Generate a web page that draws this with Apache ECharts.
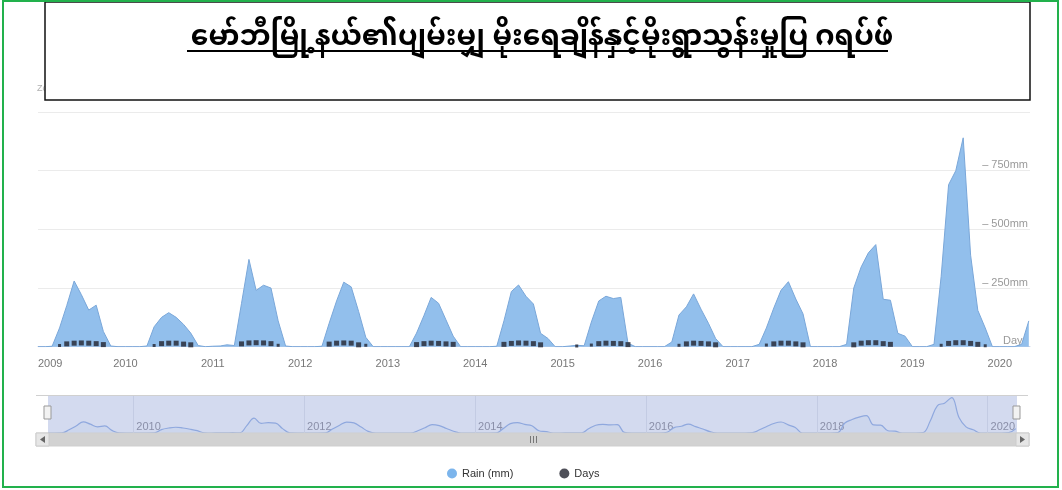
<!DOCTYPE html>
<html><head><meta charset="utf-8">
<script src="https://cdn.jsdelivr.net/npm/echarts@6/dist/echarts.min.js"></script>
<style>html,body{margin:0;padding:0;background:#fff}#c{width:1062px;height:490px}</style>
</head><body><div id="c"></div>
<script>
// ---- data (monthly, Jan..Dec) ----
const titleText = 'မော်ဘီမြို့နယ်၏ပျမ်းမျှ မိုးရေချိန်နှင့်မိုးရွာသွန်းမှုပြ ဂရပ်ဖ်';
const years = [2009, 2010, 2011, 2012, 2013, 2014, 2015, 2016, 2017, 2018, 2019, 2020];
const rain2009 = [0, 0, 2, 80, 175, 280, 222, 156, 177, 65, 3, 0];
const rain2010 = [0, 0, 0, 3, 85, 125, 145, 125, 95, 58, 5, 0];
const rain2011 = [2, 3, 8, 5, 185, 372, 240, 262, 250, 110, 3, 0];
const rain2012 = [0, 0, 0, 2, 100, 195, 275, 255, 150, 40, 0, 0];
const rain2013 = [0, 0, 0, 0, 58, 133, 210, 185, 114, 45, 0, 0];
const rain2014 = [0, 0, 0, 2, 110, 235, 263, 215, 182, 57, 35, 0];
const rain2015 = [0, 3, 6, 4, 105, 195, 215, 205, 210, 15, 0, 0];
const rain2016 = [0, 0, 0, 20, 135, 170, 225, 160, 100, 35, 0, 0];
const rain2017 = [0, 0, 0, 10, 80, 165, 240, 277, 203, 140, 0, 0];
const rain2018 = [0, 0, 0, 10, 250, 340, 400, 435, 202, 198, 57, 45];
const rain2019 = [0, 0, 0, 10, 300, 690, 750, 890, 390, 155, 80, 0];
const rain2020 = [0, 0, 0, 10, 110];
const days2009 = [null, null, null, 5, 12, 15, 16, 15, 13, 9, null, null];
const days2010 = [null, null, null, null, 5, 13, 15, 15, 11, 8, null, null];
const days2011 = [null, null, null, null, 12, 16, 17, 16, 13, 6, null, null];
const days2012 = [null, null, null, null, 11, 15, 16, 15, 8, 6, null, null];
const days2013 = [null, null, null, null, 9, 13, 15, 14, 12, 10, null, null];
const days2014 = [null, null, null, null, 10, 14, 16, 15, 13, 8, null, null];
const days2015 = [null, null, 3, null, 7, 13, 15, 14, 13, 9, null, null];
const days2016 = [null, null, null, null, 6, 12, 15, 14, 12, 8, null, null];
const days2017 = [null, null, null, null, 7, 12, 15, 15, 12, 8, null, null];
const days2018 = [null, null, null, null, 8, 15, 17, 17, 13, 10, null, null];
const days2019 = [null, null, null, null, 6, 14, 17, 17, 14, 10, 4, null];
const days2020 = [null, null, null, null, null];
const yTicks = [250, 500, 750];
const navYears = [2010, 2012, 2014, 2016, 2018, 2020];

const rainByYear = [rain2009, rain2010, rain2011, rain2012, rain2013, rain2014, rain2015, rain2016, rain2017, rain2018, rain2019, rain2020];
const daysByYear = [days2009, days2010, days2011, days2012, days2013, days2014, days2015, days2016, days2017, days2018, days2019, days2020];

const rainData = [], daysData = [];
years.forEach((y, k) => {
  rainByYear[k].forEach((v, m) => rainData.push([new Date(y, m, 1).getTime(), v]));
  daysByYear[k].forEach((v, m) => { if (v != null) daysData.push([new Date(y, m, 1).getTime(), v]); });
});
const tMin = new Date(2009, 0, 1).getTime();
const tMax = new Date(2020, 4, 6).getTime();
const DAY = 864e5;
const FONT = '"Liberation Sans", Arial, sans-serif';

const chart = echarts.init(document.getElementById('c'), null, {renderer: 'canvas'});
chart.setOption({
  animation: false,
  textStyle: {fontFamily: FONT},
  title: {
    text: titleText, left: 537, top: 23, textAlign: 'center', z: 20,
    textStyle: {fontSize: 28, fontWeight: 'bold', color: '#000', fontFamily: '"Noto Sans Myanmar", "Myanmar Text", Padauk, "Noto Sans", sans-serif'}
  },
  legend: {
    data: ['Rain (mm)', 'Days'], left: 442, top: 463, icon: 'circle',
    itemWidth: 10, itemHeight: 10, itemGap: 46,
    textStyle: {fontSize: 11, color: '#333', fontFamily: FONT}
  },
  grid: [
    {left: 38, right: 32, top: 112, height: 234.7},
    {left: 48, right: 45, top: 396, height: 37, show: true, backgroundColor: '#d3daef', borderWidth: 0}
  ],
  xAxis: [
    {type: 'time', gridIndex: 0, min: tMin, max: tMax, splitNumber: 11,
     minInterval: 365 * DAY, maxInterval: 366 * DAY,
     axisLine: {lineStyle: {color: '#ccd6eb'}}, axisTick: {show: false}, splitLine: {show: false},
     axisLabel: {formatter: '{yyyy}', color: '#777', fontSize: 11, margin: 12, showMinLabel: true, showMaxLabel: false, alignMinLabel: 'left'}},
    {type: 'time', gridIndex: 1, min: tMin, max: tMax, splitNumber: 11,
     minInterval: 365 * DAY, maxInterval: 366 * DAY,
     axisLine: {show: false}, axisTick: {show: false}, splitLine: {show: false},
     axisLabel: {inside: true, color: '#8a8fa8', fontSize: 11, align: 'left', padding: [0, 0, 0, 3], margin: 1, showMinLabel: false, showMaxLabel: false,
       formatter: v => { const y = new Date(v).getFullYear(); return navYears.indexOf(y) >= 0 ? String(y) : ''; }}}
  ],
  yAxis: [
    {type: 'value', gridIndex: 0, position: 'right', min: 0, max: 1000, interval: 250,
     axisLine: {show: false}, axisTick: {show: false},
     splitLine: {lineStyle: {color: '#ebebeb'}},
     axisLabel: {inside: true, margin: 2, verticalAlign: 'bottom', color: '#999', fontSize: 11,
       formatter: v => yTicks.indexOf(v) >= 0 ? '– ' + v + 'mm' : (v === 0 ? 'Days' : '')}},
    {type: 'value', gridIndex: 1, min: 0, max: 930, show: false}
  ],
  series: [
    {name: 'Rain (mm)', type: 'line', xAxisIndex: 0, yAxisIndex: 0, data: rainData, showSymbol: false,
     lineStyle: {color: '#7aa7d9', width: 1}, areaStyle: {color: '#92bfec', opacity: 1},
     itemStyle: {color: '#7cb5ec'}, z: 2},
    {name: 'Days', type: 'scatter', xAxisIndex: 0, yAxisIndex: 0, data: daysData, symbol: 'rect',
     symbolSize: v => v[1] < 8 ? 3 : 5, itemStyle: {color: '#23242f'}, z: 5},
    {name: 'nav', type: 'line', xAxisIndex: 1, yAxisIndex: 1, data: rainData, showSymbol: false, smooth: 0.4,
     lineStyle: {color: '#8fa8de', width: 1.2}, areaStyle: {color: 'rgba(150,175,225,0.15)'}, silent: true, z: 2,
     markLine: {silent: true, symbol: 'none', label: {show: false},
       lineStyle: {color: '#c3cbe3', width: 1, type: 'solid'},
       data: navYears.map(y => ({xAxis: new Date(y, 0, 1).getTime()}))}}
  ],
  graphic: [
    {type: 'rect', shape: {x: 3, y: 1, width: 1055, height: 486}, style: {fill: 'none', stroke: '#22b14c', lineWidth: 2}, z: 30},
    {type: 'text', x: 37, y: 84, style: {text: 'Zoom', fill: '#b0b0b0', font: '9px ' + FONT}, z: 1},
    {type: 'rect', shape: {x: 45, y: 2, width: 985, height: 98}, style: {fill: '#fff', stroke: '#111', lineWidth: 1.5}, z: 10},
    {type: 'line', shape: {x1: 187, y1: 51, x2: 888, y2: 51}, style: {stroke: '#000', lineWidth: 2}, z: 21},
    {type: 'line', shape: {x1: 36, y1: 395.5, x2: 1028, y2: 395.5}, style: {stroke: '#d0d0d0', lineWidth: 1}, z: 10},
    // scrollbar
    {type: 'rect', shape: {x: 36, y: 433, width: 993, height: 13}, style: {fill: '#d2d2d2', stroke: '#cfcfcf'}, z: 10},
    {type: 'rect', shape: {x: 36, y: 433, width: 13, height: 13}, style: {fill: '#e6e6e6', stroke: '#cccccc'}, z: 11},
    {type: 'polygon', shape: {points: [[45, 436], [45, 443], [40, 439.5]]}, style: {fill: '#666'}, z: 12},
    {type: 'rect', shape: {x: 1016, y: 433, width: 13, height: 13}, style: {fill: '#e6e6e6', stroke: '#cccccc'}, z: 11},
    {type: 'polygon', shape: {points: [[1020, 436], [1020, 443], [1025, 439.5]]}, style: {fill: '#666'}, z: 12},
    {type: 'line', shape: {x1: 530.5, y1: 436, x2: 530.5, y2: 443}, style: {stroke: '#777'}, z: 12},
    {type: 'line', shape: {x1: 533.5, y1: 436, x2: 533.5, y2: 443}, style: {stroke: '#777'}, z: 12},
    {type: 'line', shape: {x1: 536.5, y1: 436, x2: 536.5, y2: 443}, style: {stroke: '#777'}, z: 12},
    // navigator handles
    {type: 'rect', shape: {x: 44, y: 406, width: 7, height: 13}, style: {fill: '#f2f2f2', stroke: '#999'}, z: 12},
    {type: 'rect', shape: {x: 1013, y: 406, width: 7, height: 13}, style: {fill: '#f2f2f2', stroke: '#999'}, z: 12}
  ]
});
</script></body></html>
